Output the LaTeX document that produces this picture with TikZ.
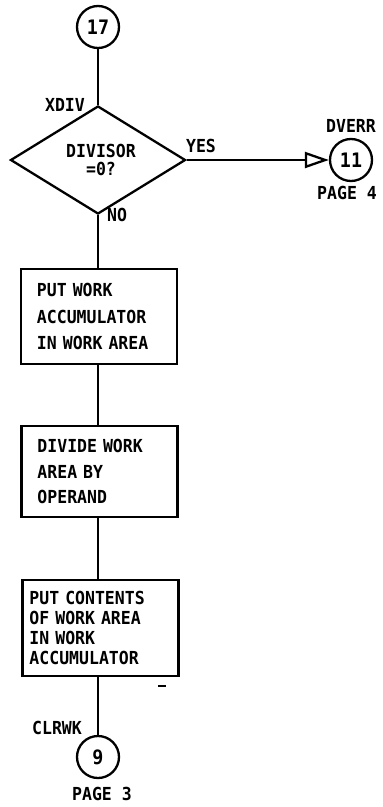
\documentclass[tikz,border=0pt]{standalone}
\usepackage{fontspec}
\newfontfamily\lettering[FakeStretch=0.92]{DejaVu Sans Mono Bold}
\usetikzlibrary{shapes.geometric,arrows.meta}
\begin{document}
\begin{tikzpicture}[x=1bp,y=-1bp,
  txt/.style={font=\lettering\fontsize{18}{20}\selectfont},
  lbl/.style={txt,inner sep=0pt},
  ln/.style={line width=2.3bp},
  conn/.style={draw,circle,line width=2.3bp,minimum size=42bp,inner sep=0pt,font=\lettering\fontsize{20}{20}\selectfont},
  dec/.style={draw,diamond,line width=2.3bp,minimum width=175bp,minimum height=100bp,inner sep=0pt,align=center,
    font=\lettering\fontsize{18}{19}\selectfont},
  proc/.style={draw,rectangle,line width=2.3bp,minimum width=156bp,align=left,inner xsep=16bp,inner ysep=0pt,text width=124bp},
]
\useasboundingbox (0,0) rectangle (382,807);
\node[conn] (c17) at (98,27) {17};
\node[dec] (d) at (98,160) {\hspace*{6bp}DIVISOR\\\hspace*{6bp}=0?};
\node[conn] (c11) at (351,160) {11};
\node[proc,minimum height=95bp,font=\lettering\fontsize{18}{26.5}\selectfont] (b1) at (99,316.5) {PUT WORK\\ACCUMULATOR\\IN WORK AREA};
\node[proc,minimum height=91bp,font=\lettering\fontsize{18}{25.5}\selectfont] (b2) at (99.5,471.5) {DIVIDE WORK\\AREA BY\\OPERAND};
\node[proc,minimum height=96bp,inner xsep=7bp,text width=142bp,font=\lettering\fontsize{18}{20.3}\selectfont] (b3) at (100.5,628) {PUT CONTENTS\\OF WORK AREA\\IN WORK\\ACCUMULATOR};
\node[conn] (c9) at (98,757) {9};
\node[lbl] (xdiv) at (65,105) {XDIV};
\node[lbl] (yes) at (201,146) {YES};
\node[lbl] (no) at (117,215) {NO};
\node[lbl] (dverr) at (351,126) {DVERR};
\node[lbl] (pg4) at (347,193) {PAGE 4};
\node[lbl] (clrwk) at (57,728) {CLRWK};
\node[lbl] (pg3) at (102,794) {PAGE 3};
\draw[ln] (c17.south) -- (d.north);
\draw[ln] (d.south) -- (d.south |- b1.north);
\draw[ln] (d.south |- b1.south) -- (d.south |- b2.north);
\draw[ln] (d.south |- b2.south) -- (d.south |- b3.north);
\draw[ln] (d.south |- b3.south) -- (c9.north);
\draw[ln,-{Triangle[open,length=24bp,width=16bp,line width=2.3bp]}] (d.east) -- (c11.west);
\coordinate (m1) at (158,686);
\coordinate (m2) at (166,686);
\draw[line width=1.8bp] (m1) -- (m2);
\end{tikzpicture}
\end{document}
